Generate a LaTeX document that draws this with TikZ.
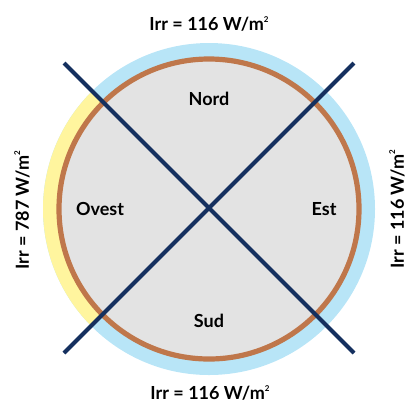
\documentclass[tikz,border=0pt]{standalone}
\usepackage{fontspec}
\setmainfont{Lato}
\definecolor{skyring}{HTML}{B8E5F7}
\definecolor{sunring}{HTML}{FFF59E}
\definecolor{wallbrown}{HTML}{BF774B}
\definecolor{floorgrey}{HTML}{E3E3E3}
\definecolor{crossnavy}{HTML}{15305F}
\newcommand{\sqm}{m\raisebox{0.95ex}{\fontsize{6pt}{6pt}\selectfont 2}}
\begin{document}
\begin{tikzpicture}[x=0.75pt,y=-0.75pt,
  lbl/.style={font=\fontsize{13.5pt}{15pt}\selectfont\bfseries, text=black, inner sep=0pt},
  irr/.style={lbl},
  crossline/.style={draw=crossnavy, line width=3pt},
]
\useasboundingbox (0,0) rectangle (406,405);
\coordinate (c) at (209,209);
% outer ring: sky part and sun-lit west sector
\fill[skyring] (c) circle[radius=166];
\fill[sunring] (c) -- ++(135:166) arc[start angle=135, end angle=225, radius=166] -- cycle;
% wall and floor
\fill[floorgrey] (c) circle[radius=150];
\draw[wallbrown, line width=3.9pt] (c) circle[radius=150];
% diagonal cross
\coordinate (nw) at (64,63);
\coordinate (se) at (354,353);
\coordinate (ne) at (354,63);
\coordinate (sw) at (64,353);
\draw[crossline] (nw) -- (se);
\draw[crossline] (ne) -- (sw);
% orientation labels
\node[lbl] (nord) at (209,99) {Nord};
\node[lbl] (ovest) at (100,209) {Ovest};
\node[lbl] (est) at (324,209) {Est};
\node[lbl] (sud) at (209,321) {Sud};
% irradiance labels
\node[irr] (irrN) at (209,24) {Irr = 116 W/\sqm};
\node[irr] (irrS) at (210,393) {Irr = 116 W/\sqm};
\node[irr, rotate=90] (irrW) at (22,210) {Irr = 787 W/\sqm};
\node[irr, rotate=90] (irrE) at (397,209) {Irr = 116 W/\sqm};
\end{tikzpicture}
\end{document}
